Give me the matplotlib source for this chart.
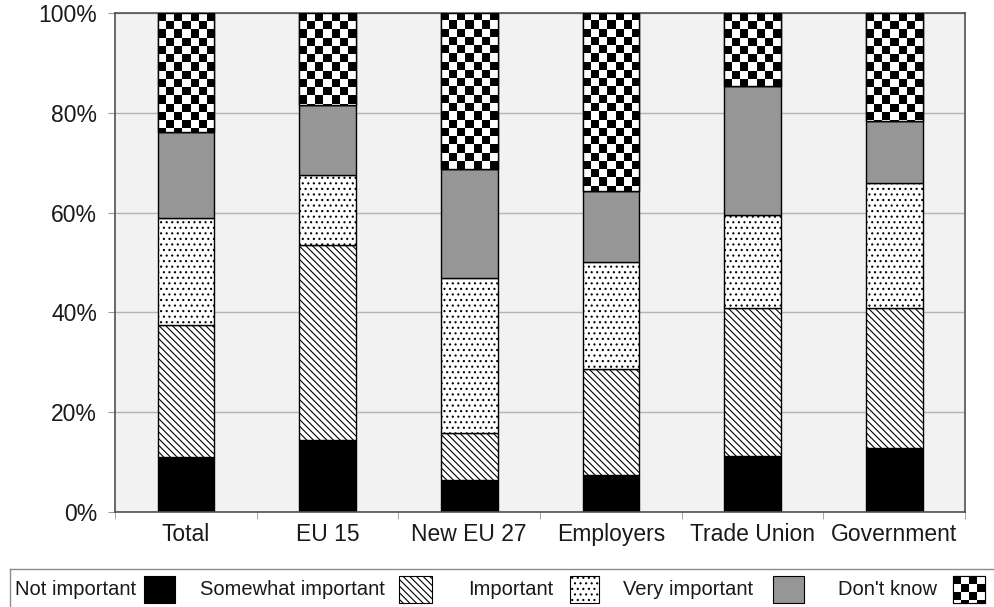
#!/usr/bin/env python3
"""Stacked 100% bars: importance ratings by respondent group."""

import matplotlib

matplotlib.use("Agg")
import matplotlib.pyplot as plt
import numpy as np
from matplotlib.patches import Rectangle

plt.rcParams["font.family"] = ["Liberation Sans", "DejaVu Sans"]
plt.rcParams["hatch.linewidth"] = 0.8

categories = ["Total", "EU 15", "New EU 27", "Employers", "Trade Union", "Government"]
series_names = ["Not important", "Somewhat important", "Important", "Very important", "Don't know"]

not_important = [11.0, 14.4, 6.4, 7.4, 11.2, 12.8]
somewhat_important = [26.5, 39.1, 9.4, 21.3, 29.7, 28.1]
important = [21.4, 14.0, 31.1, 21.4, 18.6, 25.0]
very_important = [17.3, 14.1, 21.8, 14.2, 25.9, 12.5]
dont_know = [23.8, 18.4, 31.3, 35.7, 14.6, 21.6]

y_ticks = [0, 20, 40, 60, 80, 100]
y_tick_labels = ["0%", "20%", "40%", "60%", "80%", "100%"]

BAR_W = 0.4
CHECK_COLS = 7
CHECK_H = 1.65  # height of one checker cell, in percent


def checker(rows, cols):
    return (np.add.outer(np.arange(rows), np.arange(cols)) % 2).astype(float)


def draw_checker(ax, x0, x1, y_bottom, y_top, cell_w, cell_h, clip, zorder):
    ncols = int(np.ceil((x1 - x0) / cell_w - 1e-6))
    nrows = int(np.ceil(abs(y_top - y_bottom) / cell_h - 1e-6))
    img = ax.imshow(
        checker(nrows, ncols),
        cmap="gray",
        vmin=0,
        vmax=1,
        interpolation="nearest",
        aspect="auto",
        origin="upper",
        extent=(x0, x0 + ncols * cell_w, y_top - np.sign(y_top - y_bottom) * nrows * cell_h, y_top),
        zorder=zorder,
    )
    img.set_clip_path(clip)


fig = plt.figure(figsize=(9.94, 6.07), dpi=100)
ax = fig.add_axes([115 / 994, 1 - 512 / 607, 850 / 994, 499 / 607])
ax.set_facecolor("#f2f2f2")

x = np.arange(len(categories))
bottom = np.zeros(len(categories))
styles = [
    dict(color="black"),
    dict(color="white", hatch="\\\\\\\\\\"),
    dict(color="white", hatch="..."),
    dict(color="#969696"),
    dict(color="white"),
]
values = [not_important, somewhat_important, important, very_important, dont_know]

for vals, st in zip(values, styles):
    vals = np.array(vals)
    ax.bar(x, vals, BAR_W, bottom=bottom, color=st["color"], hatch=st.get("hatch"),
           edgecolor="black", linewidth=1.0, zorder=2)
    bottom += vals

# checkerboard fill for "Don't know"
dk_bottom = bottom - np.array(dont_know)
for xi, b, t in zip(x, dk_bottom, bottom):
    clip = Rectangle((xi - BAR_W / 2, b), BAR_W, t - b, transform=ax.transData)
    draw_checker(ax, xi - BAR_W / 2, xi + BAR_W / 2, b, t, BAR_W / CHECK_COLS, CHECK_H, clip, 2.5)
ax.bar(x, dont_know, BAR_W, bottom=dk_bottom, facecolor="none", edgecolor="black",
       linewidth=1.0, zorder=3)

ax.set_xlim(-0.5, len(categories) - 0.5)
ax.set_ylim(0, 100)
ax.set_yticks(y_ticks)
ax.set_yticklabels(y_tick_labels, fontsize=16.5, color="#1a1a1a")
ax.set_xticks(x)
ax.set_xticklabels(categories, fontsize=16.5, color="#1a1a1a")
ax.tick_params(axis="x", length=0, pad=8)
ax.set_xticks(np.arange(len(categories) + 1) - 0.5, minor=True)
ax.tick_params(axis="x", which="minor", length=5, color="#999999", direction="out")
ax.tick_params(axis="y", length=5, color="#999999", pad=8)
ax.yaxis.grid(True, color="#b4b4b4", linewidth=1.0, zorder=0)
ax.set_axisbelow(True)
for side in ["left", "bottom", "top", "right"]:
    ax.spines[side].set_color("#505050")
    ax.spines[side].set_linewidth(1.2)

# legend box, laid out in image pixel units
lax = fig.add_axes([10 / 994, 1 - 612 / 607, 986 / 994, 43 / 607])
lax.set_xticks([])
lax.set_yticks([])
for side in lax.spines.values():
    side.set_color("#8c8c8c")
    side.set_linewidth(1.0)

legend_text_x = [15, 200, 468, 623, 838]
legend_patch_x = [144, 399, 570, 773, 953]
legend_patch_w = [31, 33, 29, 31, 32]
patch_top, patch_h = 576, 27
for i, name in enumerate(series_names):
    lax.text(legend_text_x[i], patch_top + patch_h / 2, name, fontsize=14.5,
             va="center", ha="left", color="#1a1a1a")
    st = styles[i]
    rect = Rectangle((legend_patch_x[i], patch_top), legend_patch_w[i], patch_h,
                     facecolor=st["color"], hatch=st.get("hatch"),
                     edgecolor="black", linewidth=0.8, zorder=2)
    lax.add_patch(rect)
    if name == "Don't know":
        draw_checker(lax, legend_patch_x[i], legend_patch_x[i] + legend_patch_w[i],
                     patch_top + patch_h, patch_top, 8, 8, rect, 2.5)
        lax.add_patch(Rectangle((legend_patch_x[i], patch_top), legend_patch_w[i], patch_h,
                                facecolor="none", edgecolor="black", linewidth=0.8, zorder=3))
lax.set_xlim(10, 996)
lax.set_ylim(612, 569)

fig.savefig("out.png", dpi=100)
